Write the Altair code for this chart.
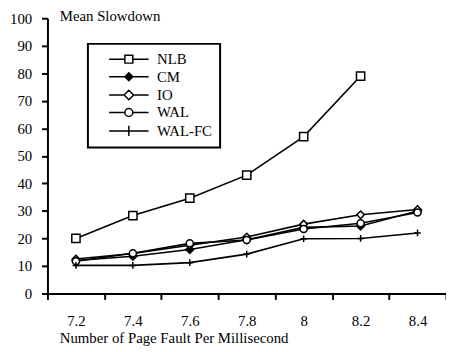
import altair as alt
import pandas as pd

x_labels = ["7.2", "7.4", "7.6", "7.8", "8", "8.2", "8.4"]
series = ["NLB", "CM", "IO", "WAL", "WAL-FC"]
nlb = [20, 28.3, 34.6, 43, 57, 79]
cm = [12, 13.5, 16, 19.5, 24, 24.5, 30]
io = [12.5, 14.5, 17.5, 20.5, 25.2, 28.6, 30.5]
wal = [11.7, 14.6, 18.2, 19.4, 23.4, 25.5, 29.4]
walfc = [10.2, 10.2, 11.2, 14.3, 19.9, 20, 22]

values = {"NLB": nlb, "CM": cm, "IO": io, "WAL": wal, "WAL-FC": walfc}
rows = []
for s in series:
    for xl, v in zip(x_labels, values[s]):
        rows.append({"x": xl, "y": v, "series": s})
df = pd.DataFrame(rows)

FONT = "Liberation Serif"

plus = "M-1,0H1M0,-1V1"
point_shapes = ["square", "diamond", "diamond", "circle", plus]
point_fills = ["white", "black", "white", "white", "white"]
point_sizes = [70, 45, 95, 75, 120]

legend_paths = [
    "M-5,0H-1M1,0H5M-1,-1H1V1H-1Z",
    "M-5,0H5M0,-1L1,0L0,1L-1,0ZM0,-0.6L0.6,0L0,0.6L-0.6,0ZM0,-0.25L0.25,0L0,0.25L-0.25,0Z",
    "M-5,0H-1.2M1.2,0H5M0,-1.2L1.2,0L0,1.2L-1.2,0Z",
    "M-5,0H-1M1,0H5M1,0A1,1,0,1,1,-1,0A1,1,0,1,1,1,0Z",
    "M-5,0H5M0,-1.3V1.3",
]

X = alt.X(
    "x:O",
    sort=x_labels,
    scale=alt.Scale(type="band", domain=x_labels, paddingInner=0, paddingOuter=0),
    axis=alt.Axis(
        title="Number of Page Fault Per Millisecond",
        labelAngle=0,
        tickBand="extent",
        titleX=12,
        titleY=50,
        titleAlign="left",
        titleBaseline="alphabetic",
        tickSize=6,
        labelPadding=14,
        domainWidth=2,
        tickWidth=2,
    ),
)
Y = alt.Y(
    "y:Q",
    scale=alt.Scale(domain=[0, 100], nice=False),
    axis=alt.Axis(
        values=list(range(0, 101, 10)),
        title="Mean Slowdown",
        titleAngle=0,
        titleX=12,
        titleY=-3,
        titleAlign="left",
        titleBaseline="middle",
        tickSize=6,
        labelPadding=10,
        domainWidth=2,
        tickWidth=2,
    ),
)

lines = alt.Chart(df).mark_line(color="black", strokeWidth=1.6).encode(
    x=X, y=Y, detail="series:N"
)

points = alt.Chart(df).mark_point(stroke="black", strokeWidth=1.5, opacity=1).encode(
    x=X,
    y=Y,
    shape=alt.Shape("series:N", scale=alt.Scale(domain=series, range=point_shapes), legend=None),
    fill=alt.Fill("series:N", scale=alt.Scale(domain=series, range=point_fills), legend=None),
    size=alt.Size("series:N", scale=alt.Scale(domain=series, range=point_sizes), legend=None),
)

leg = alt.Legend(
    title=None,
    orient="none",
    legendX=41,
    legendY=26,
    padding=8,
    labelOffset=21,
    symbolOffset=26,
    symbolSize=64,
    symbolStrokeWidth=1.5,
    symbolStrokeColor="black",
    symbolFillColor="transparent",
    strokeColor="black",
    rowPadding=1.7,
    labelExpr="datum.label + '\u00a0\u00a0\u00a0\u00a0\u00a0\u00a0\u00a0\u00a0'",
)

legend_layer = (
    alt.Chart(df)
    .transform_filter("false")
    .mark_point(color="black", stroke="black", strokeWidth=1.5, size=64, opacity=1, filled=False)
    .encode(
        shape=alt.Shape("series:N", scale=alt.Scale(domain=series, range=legend_paths), legend=leg, sort=series),
    )
)

chart = (
    alt.layer(lines, points, legend_layer)
    .resolve_scale(shape="independent", fill="independent", size="independent")
    .properties(
        width=404,
        height=279,
        padding={"left": 40, "top": 8, "right": 0, "bottom": 60},
        autosize=alt.AutoSizeParams(type="none"),
    )
    .configure_view(stroke=None)
    .configure_axis(
        labelFont=FONT,
        titleFont=FONT,
        labelFontSize=15,
        titleFontSize=15,
        labelColor="black",
        titleColor="black",
        titleFontWeight="normal",
        domainColor="black",
        tickColor="black",
        grid=False,
    )
    .configure_legend(
        labelFont=FONT,
        labelFontSize=15,
        labelColor="black",
        strokeWidth=2,
    )
)

chart.save("out.html", embed_options={"renderer": "svg", "actions": False})
